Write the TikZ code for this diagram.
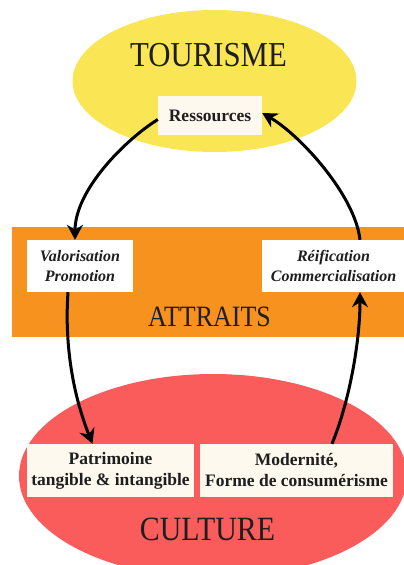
\documentclass[tikz,border=0pt]{standalone}
\usepackage{fontspec}
\setmainfont{Liberation Serif}
\newfontfamily\titlefont[FakeStretch=0.88]{Liberation Serif}
\usetikzlibrary{shapes.geometric,arrows.meta}
\definecolor{tyellow}{RGB}{250,230,85}
\definecolor{torange}{RGB}{247,146,30}
\definecolor{tred}{RGB}{250,92,92}
\definecolor{tbox}{RGB}{253,249,238}
\definecolor{ttext}{RGB}{30,30,30}
\begin{document}
\begin{tikzpicture}[x=1pt,y=-1pt,
  zone/.style={ellipse, inner sep=0pt, draw=none},
  lbox/.style={rectangle, inner sep=0pt, fill=tbox, text=ttext, align=center, font=\bfseries\fontsize{17.5}{21}\selectfont},
  ibox/.style={lbox, fill=white, font=\bfseries\itshape\fontsize{16}{20}\selectfont},
  big/.style={inner sep=0pt, text=ttext},
  flow/.style={line width=3pt, -{Stealth[length=15pt,width=16pt,inset=5pt]}}]
\useasboundingbox (0,0) rectangle (404,565);
\node[zone, fill=tyellow, minimum width=284pt, minimum height=142pt] (tourisme) at (214.5,81) {};
\node[zone, fill=tred, minimum width=388pt, minimum height=204pt] (culture) at (213,476) {};
\node[rectangle, fill=torange, inner sep=0pt, minimum width=393pt, minimum height=110pt] (attraits) at (208.5,282) {};
\node[big, font=\titlefont\fontsize{35}{35}\selectfont] (ttour) at (208.5,55) {TOURISME};
\node[big, font=\titlefont\fontsize{29.5}{30}\selectfont] (tattr) at (209.5,317) {ATTRAITS};
\node[big, font=\titlefont\fontsize{34}{34}\selectfont] (tcult) at (207.5,529) {CULTURE};
\node[lbox, minimum width=104pt, minimum height=39pt] (res) at (210,115.5) {Ressources};
\node[ibox, minimum width=106pt, minimum height=52pt] (val) at (80,266) {Valorisation\\Promotion};
\node[ibox, minimum width=143pt, minimum height=52pt] (reif) at (333.5,266) {Réification\\Commercialisation};
\node[lbox, minimum width=167pt, minimum height=53pt] (pat) at (110.5,470.5) {Patrimoine\\tangible \& intangible};
\node[lbox, minimum width=193pt, minimum height=53pt] (mod) at (296.5,470.5) {Modernité,\\Forme de consumérisme};
\draw[flow] ([yshift=-4pt]res.west) .. controls (125,140) and (75,190) .. ([xshift=-5pt]val.north);
\draw[flow] ([xshift=26.5pt]reif.north) .. controls (355,195) and (300,135) .. ([yshift=2.5pt]res.east);
\draw[flow] ([xshift=-12pt]val.south) .. controls (64,350) and (75,400) .. ([xshift=-18pt]pat.north);
\draw[flow] ([xshift=35.5pt]mod.north) .. controls (350,400) and (360,340) .. ([xshift=26.5pt]reif.south);
\end{tikzpicture}
\end{document}
